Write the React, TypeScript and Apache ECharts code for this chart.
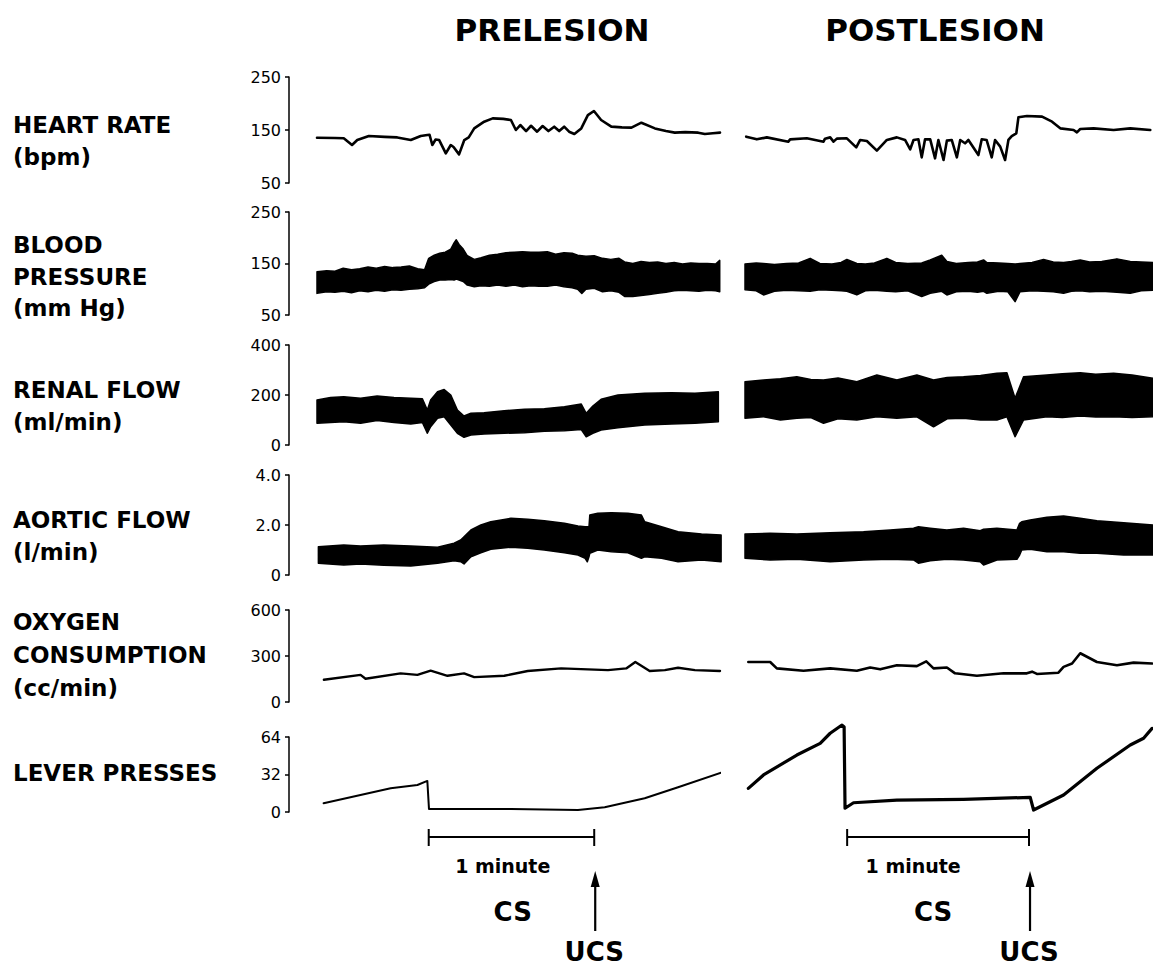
import React, { useEffect, useRef } from "react";
import * as echarts from "echarts";

// ---------- titles / labels ----------
const panelTitles = ["PRELESION", "POSTLESION"];
const rowLabels: [string, number][] = [
  ["HEART RATE", 125], ["(bpm)", 157],
  ["BLOOD", 245], ["PRESSURE", 277], ["(mm Hg)", 308],
  ["RENAL FLOW", 390], ["(ml/min)", 422],
  ["AORTIC FLOW", 520], ["(l/min)", 552],
  ["OXYGEN", 622], ["CONSUMPTION", 655], ["(cc/min)", 688],
  ["LEVER PRESSES", 773],
];

// ---------- axes (value ranges, ticks) ----------
const rowMin = [50, 50, 0, 0, 0, 0];
const rowMax = [250, 250, 400, 4, 600, 64];
const rowInterval = [100, 100, 200, 2, 300, 32];
const timeMin = [-40.5, -33.7]; // seconds relative to CS onset
const timeMax = [105.6, 100.9];

// ---------- heart rate (bpm) : [t, value] ----------
const hrPre: number[][] = [
  [-40.5, 135.5], [-34, 135], [-30.8, 134.3], [-27.8, 121.7], [-25.9, 131], [-21.7, 138.7], [-16, 137], [-11.4, 136],
  [-6.5, 131], [-2.9, 138.7], [-0.5, 140.5], [0.3, 141], [1.3, 121.7], [2.5, 132], [3.8, 131], [6.2, 106], [8, 121.7],
  [9, 118], [11, 104], [12.9, 131], [14.5, 136], [16.5, 153], [20.1, 165.7], [23.2, 172], [27, 171], [29.8, 168.9],
  [31.6, 150], [33.2, 159.4], [35.3, 148], [37.1, 158], [39.3, 146.8], [41.3, 157.5], [43.4, 148], [45.5, 156.3],
  [47.3, 148], [49.1, 156.3], [50.9, 146.8], [52.8, 142.4], [55.3, 153], [57.7, 178], [59.9, 185.8], [62.5, 168.9],
  [66.2, 156.3], [70, 155], [73.5, 154.5], [77.1, 163.8], [82, 153], [86, 148], [89.2, 145], [93, 146], [97.7, 145],
  [100.1, 142.4], [103, 144], [105.6, 145],
];
const hrPost: number[][] = [
  [-33.3, 137.4], [-29.8, 132.4], [-26.5, 136.1], [-19.4, 128], [-18.8, 132.4], [-13.3, 134.3], [-7.8, 128], [-7.3, 133.7],
  [-5.6, 136.1], [-4.5, 128], [-3.4, 133.7], [-0.1, 134.3], [3.0, 117.3], [4.3, 131.2], [6.5, 129.3], [9.8, 111],
  [13.1, 131.2], [16.4, 136.1], [19.1, 131.2], [20.8, 113.6], [21.9, 131.2], [23.5, 132.4], [24.6, 98.4], [25.7, 132.4],
  [27.4, 132.4], [29.0, 96.5], [30.1, 131.2], [31.8, 93.4], [32.9, 129.9], [34.5, 131.2], [36.2, 98.4], [37.3, 131.2],
  [38.9, 124.9], [40.0, 131.2], [43.3, 102.8], [44.4, 132.4], [46.0, 131.2], [47.7, 98.4], [48.8, 131.2], [50.5, 118.6],
  [52.1, 93.4], [53.2, 131.2], [54.3, 138.5], [55.8, 143.7], [56.5, 173.9], [59.3, 176.4], [64.3, 175.2], [67.6, 165.7],
  [70.3, 153.1], [74.7, 150], [75.8, 145.6], [76.9, 151.8], [81.3, 153.1], [87.9, 150], [93.4, 153.1], [100.0, 150],
];

// ---------- blood pressure (mm Hg) : [t, low, high] ----------
const bpPre: number[][] = [
  [-40.5, 92, 134], [-37, 95, 136], [-34, 94, 135], [-31, 96, 141], [-28, 93, 138], [-25, 97, 140], [-22, 95, 143],
  [-19, 98, 141], [-16, 96, 144], [-13, 99, 142], [-10, 98, 143], [-7, 100, 145], [-4, 101, 140], [-1.5, 103, 138],
  [0, 110, 160], [2, 115, 166], [4, 118, 170], [6, 118, 172], [8, 119, 178], [9.2, 118, 190], [10, 120, 196],
  [11, 118, 187], [12.5, 115, 178], [14, 108, 165], [16.5, 105, 158], [19, 107, 161], [22, 106, 166], [25, 108, 168],
  [28, 106, 171], [31, 108, 172], [34, 105, 173], [37, 107, 172], [40, 106, 172], [43, 106, 173], [46, 108, 168],
  [49, 105, 171], [52, 103, 170], [54, 100, 166], [55.5, 92, 165], [57, 100, 164], [60, 102, 165], [63, 95, 160],
  [66, 97, 158], [69, 94, 160], [71, 86, 153], [74, 86, 150], [77, 88, 154], [80, 90, 152], [83, 92, 153], [86, 94, 150],
  [89, 97, 152], [92, 98, 149], [95, 97, 151], [98, 96, 150], [101, 98, 150], [104, 97, 149], [105.5, 95, 156],
];
const bpPost: number[][] = [
  [-33.7, 99, 149], [-30, 97, 151], [-27.6, 89, 150], [-24, 96, 148], [-20, 98, 150], [-16, 97, 151], [-12.2, 96, 160],
  [-9, 99, 150], [-5, 98, 149], [-2, 97, 152], [-0.1, 96, 158], [3.2, 89, 150], [6, 97, 149], [9, 98, 151],
  [13.1, 96, 160], [16, 95, 152], [20, 97, 150], [24.6, 86, 151], [27.4, 92, 157], [31.2, 96, 166], [32.9, 89, 154],
  [36, 95, 150], [40, 96, 152], [43, 94, 153], [45, 96, 157], [46.1, 92, 152], [50, 96, 151], [53, 95, 150],
  [55.4, 76, 149], [57, 95, 150], [61, 97, 152], [64.8, 96, 158], [68, 95, 153], [71.4, 92, 152], [74, 96, 154],
  [76.9, 97, 157], [80, 95, 153], [84, 96, 154], [89, 94, 159], [93.4, 92, 154], [97, 97, 153], [100.9, 98, 152],
];

// ---------- renal flow (ml/min) : [t, low, high] ----------
const rfPre: number[][] = [
  [-40.5, 87, 180], [-35.6, 90, 190], [-30.8, 93, 193], [-24.7, 87, 187], [-18.7, 98, 196], [-12.6, 90, 190],
  [-6.5, 84, 187], [-2.3, 90, 185], [-0.5, 47, 140], [0.7, 73, 180], [3.2, 107, 213], [5.6, 113, 222], [8, 80, 200],
  [10.4, 47, 140], [12.8, 31, 116], [15.3, 40, 127], [20.1, 44, 129], [27.4, 47, 137], [34.7, 49, 143], [41.9, 55, 145],
  [49.2, 57, 153], [55.3, 62, 164], [57.1, 33, 127], [59.5, 47, 156], [62.5, 60, 183], [68.6, 69, 200], [78.3, 80, 207],
  [88, 84, 209], [96.5, 87, 207], [105, 93, 213],
];
const rfPost: number[][] = [
  [-33.7, 107, 253], [-27.6, 113, 260], [-22, 100, 265], [-16.6, 107, 273], [-12, 110, 262], [-7.8, 87, 260],
  [-3, 105, 268], [3.2, 100, 253], [9.8, 113, 280], [16.4, 107, 260], [23, 113, 280], [28.5, 73, 260], [33, 105, 270],
  [38.4, 107, 273], [44, 100, 278], [49.4, 100, 287], [52.7, 113, 289], [55.4, 33, 187], [58.2, 100, 273],
  [65.9, 113, 280], [71, 110, 285], [76.9, 116, 289], [82, 112, 283], [87.9, 113, 287], [94, 110, 280], [100.9, 113, 267],
];

// ---------- aortic flow (l/min) : [t, low, high] ----------
const afPre: number[][] = [
  [-40, 0.47, 1.13], [-30.8, 0.4, 1.2], [-24.7, 0.44, 1.16], [-16.3, 0.39, 1.2], [-6.5, 0.36, 1.16], [3.2, 0.47, 1.11],
  [9.2, 0.57, 1.27], [11.6, 0.53, 1.4], [12.8, 0.44, 1.53], [15.3, 0.73, 1.8], [18.9, 0.89, 2.0], [22.5, 1.03, 2.13],
  [29.8, 1.11, 2.27], [35.9, 1.07, 2.23], [41.9, 1.0, 2.17], [49.2, 0.89, 2.07], [54.1, 0.8, 1.96], [56.7, 0.67, 1.93],
  [57.5, 0.53, 1.93], [58.1, 0.73, 1.93], [58.4, 0.87, 2.4], [61.3, 1.0, 2.47], [66.2, 0.93, 2.49], [72.2, 0.89, 2.47],
  [77.1, 0.67, 2.4], [78.3, 0.73, 2.13], [84.4, 0.67, 1.93], [90.4, 0.53, 1.73], [98.9, 0.6, 1.64], [106, 0.53, 1.6],
];
const afPost: number[][] = [
  [-33.7, 0.67, 1.64], [-25.4, 0.6, 1.67], [-16.6, 0.63, 1.64], [-5.6, 0.53, 1.69], [5.4, 0.6, 1.73], [14.2, 0.63, 1.8],
  [21.9, 0.6, 1.87], [23.5, 0.47, 1.93], [27.4, 0.57, 1.87], [32.9, 0.63, 1.8], [38.4, 0.6, 1.87], [43.9, 0.53, 1.77],
  [45, 0.4, 1.83], [49.4, 0.6, 1.87], [56, 0.63, 1.8], [56.9, 0.8, 2.07], [57.6, 1.0, 2.13], [60.4, 1.03, 2.2],
  [65.9, 0.93, 2.31], [71.4, 0.93, 2.36], [76.9, 0.87, 2.27], [82.4, 0.87, 2.17], [91.2, 0.8, 2.09], [100.9, 0.8, 2.0],
];

// ---------- oxygen consumption (cc/min) : [t, value] ----------
const o2Pre: number[][] = [
  [-38, 145], [-24.7, 177], [-22.9, 152], [-10.2, 187], [-4.1, 177], [0.7, 204], [6.8, 171], [12.8, 187], [16.5, 162],
  [27.4, 171], [35.9, 202], [48, 219], [57.7, 213], [65, 208], [71.6, 219], [74.9, 261], [80.1, 202], [85.6, 208],
  [90.4, 223], [96.5, 208], [105.6, 202],
];
const o2Post: number[][] = [
  [-32.6, 261], [-25.4, 261], [-23.2, 219], [-14.4, 204], [-5.6, 219], [3.2, 204], [7.6, 225], [10.9, 213], [16.4, 240],
  [23, 234], [26.1, 265], [28.5, 219], [32.9, 225], [35.6, 187], [42.8, 171], [51.6, 187], [59.3, 187], [61, 198],
  [62.6, 183], [69.7, 191], [71.4, 229], [74.2, 251], [76.9, 318], [82.4, 261], [89, 240], [94.5, 257], [100.6, 251],
];

// ---------- lever presses (cumulative) : [t, value] ----------
const lpPre: number[][] = [
  [-38.1, 7.4], [-13.8, 20.2], [-4.1, 23], [-0.5, 26.5], [0.1, 2.6], [29.8, 2.6], [54.1, 1.7], [63.8, 4], [78.3, 11.7],
  [90.4, 21.1], [106, 33.5],
];
const lpPost: number[][] = [
  [-32.6, 20.2], [-27.6, 31.6], [-16.6, 48.6], [-8.9, 58.6], [-5.6, 67.2], [-1.7, 74.2], [-1.0, 72.5], [-0.7, 3.2],
  [2.1, 7.9], [16.4, 10.2], [38.4, 10.8], [60.4, 12.5], [61.5, 1.7], [71.4, 14.5], [82.4, 37.3], [93.4, 57.2],
  [97.8, 62.9], [100.6, 71.4],
];

// ---------- layout (pixels) ----------
const rowTop = [77, 212, 345, 475, 610, 737];
const rowBottom = [183, 315, 445, 575, 702, 812];
const colLeft = [317, 745];
const colWidth = [403, 408];
const FONT = '"DejaVu Sans", "Liberation Sans", Arial, sans-serif';

function lineSeries(gi: number, data: number[][], width: number) {
  return {
    type: "line",
    xAxisIndex: gi,
    yAxisIndex: gi,
    data,
    showSymbol: false,
    symbol: "none",
    clip: false,
    silent: true,
    lineStyle: { color: "#000", width, join: "round", cap: "round" },
  };
}

function bandSeries(gi: number, data: number[][]) {
  return {
    type: "custom",
    xAxisIndex: gi,
    yAxisIndex: gi,
    silent: true,
    clip: false,
    data,
    encode: { x: 0, y: [1, 2] },
    renderItem: (params: any, api: any) => {
      if (params.dataIndex !== 0) return null;
      const pts: number[][] = [];
      for (let i = 0; i < data.length; i++) pts.push(api.coord([data[i][0], data[i][2]]));
      for (let i = data.length - 1; i >= 0; i--) pts.push(api.coord([data[i][0], data[i][1]]));
      return {
        type: "polygon",
        shape: { points: pts },
        style: { fill: "#000", stroke: "#000", lineWidth: 1.5, lineJoin: "round" },
      };
    },
  };
}

export default function App() {
  const ref = useRef<HTMLDivElement>(null);
  useEffect(() => {
    if (!ref.current) return;
    const chart = echarts.init(ref.current, undefined, { renderer: "svg" });

    const grid: any[] = [];
    const xAxis: any[] = [];
    const yAxis: any[] = [];
    for (let r = 0; r < 6; r++) {
      for (let c = 0; c < 2; c++) {
        const gi = r * 2 + c;
        grid.push({
          left: colLeft[c],
          width: colWidth[c],
          top: rowTop[r],
          height: rowBottom[r] - rowTop[r],
          containLabel: false,
          outerBoundsMode: "none",
        });
        xAxis.push({
          type: "value",
          gridIndex: gi,
          min: timeMin[c],
          max: timeMax[c],
          show: false,
        });
        yAxis.push({
          type: "value",
          gridIndex: gi,
          min: rowMin[r],
          max: rowMax[r],
          interval: rowInterval[r],
          show: c === 0,
          position: "left",
          offset: 28,
          axisLine: { show: true, onZero: false, lineStyle: { color: "#000", width: 1.5 } },
          axisTick: { show: true, length: 4, lineStyle: { color: "#000", width: 1.5 } },
          splitLine: { show: false },
          axisLabel: {
            show: true,
            margin: 8,
            color: "#000",
            fontSize: 16,
            fontFamily: FONT,
            formatter: (v: number) => (r === 3 && v !== 0 ? v.toFixed(1) : String(v)),
          },
        });
      }
    }

    const series: any[] = [
      lineSeries(0, hrPre, 2.6),
      lineSeries(1, hrPost, 2.6),
      bandSeries(2, bpPre),
      bandSeries(3, bpPost),
      bandSeries(4, rfPre),
      bandSeries(5, rfPost),
      bandSeries(6, afPre),
      bandSeries(7, afPost),
      lineSeries(8, o2Pre, 2.4),
      lineSeries(9, o2Post, 2.6),
      lineSeries(10, lpPre, 2.0),
      lineSeries(11, lpPost, 3.2),
    ];

    const texts: any[] = [];
    const titleX = [552, 935];
    panelTitles.forEach((t, i) =>
      texts.push({
        type: "text",
        x: titleX[i],
        y: 30,
        style: { text: t, fill: "#000", font: `bold 31px ${FONT}`, textAlign: "center", textVerticalAlign: "middle" },
      })
    );
    rowLabels.forEach(([t, y]) =>
      texts.push({
        type: "text",
        x: 13,
        y,
        style: { text: t, fill: "#000", font: `bold 23px ${FONT}`, textAlign: "left", textVerticalAlign: "middle" },
      })
    );

    chart.setOption({
      animation: false,
      backgroundColor: "#fff",
      grid,
      xAxis,
      yAxis,
      series,
      graphic: texts,
    });

    // CS / UCS annotations positioned through the time scales
    const ann: any[] = [];
    const minuteDx = [74, 66];
    const csDx = [84, 86];
    for (let c = 0; c < 2; c++) {
      const gi = 10 + c;
      const x0 = chart.convertToPixel({ xAxisIndex: gi } as any, 0) as number;
      const x1 = chart.convertToPixel({ xAxisIndex: gi } as any, 60) as number;
      const ls = { stroke: "#000", lineWidth: 2 };
      ann.push({ type: "line", shape: { x1: x0, y1: 837, x2: x1, y2: 837 }, style: ls });
      ann.push({ type: "line", shape: { x1: x0, y1: 829, x2: x0, y2: 846 }, style: ls });
      ann.push({ type: "line", shape: { x1: x1, y1: 829, x2: x1, y2: 846 }, style: ls });
      ann.push({
        type: "text", x: x0 + minuteDx[c], y: 866,
        style: { text: "1 minute", fill: "#000", font: `bold 19px ${FONT}`, textAlign: "center", textVerticalAlign: "middle" },
      });
      ann.push({
        type: "text", x: x0 + csDx[c], y: 912,
        style: { text: "CS", fill: "#000", font: `bold 26px ${FONT}`, textAlign: "center", textVerticalAlign: "middle" },
      });
      const ax = x1 + 1;
      ann.push({ type: "line", shape: { x1: ax, y1: 931, x2: ax, y2: 884 }, style: { stroke: "#000", lineWidth: 2.2 } });
      ann.push({
        type: "polygon",
        shape: { points: [[ax - 4.5, 887], [ax + 4.5, 887], [ax, 871]] },
        style: { fill: "#000" },
      });
      ann.push({
        type: "text", x: x1, y: 952,
        style: { text: "UCS", fill: "#000", font: `bold 26px ${FONT}`, textAlign: "center", textVerticalAlign: "middle" },
      });
    }
    chart.setOption({ graphic: [...texts, ...ann] });

    return () => chart.dispose();
  }, []);
  return (
    <div
      ref={ref}
      style={{ position: "fixed", left: 0, top: 0, width: 1153, height: 968, background: "#fff" }}
    />
  );
}
